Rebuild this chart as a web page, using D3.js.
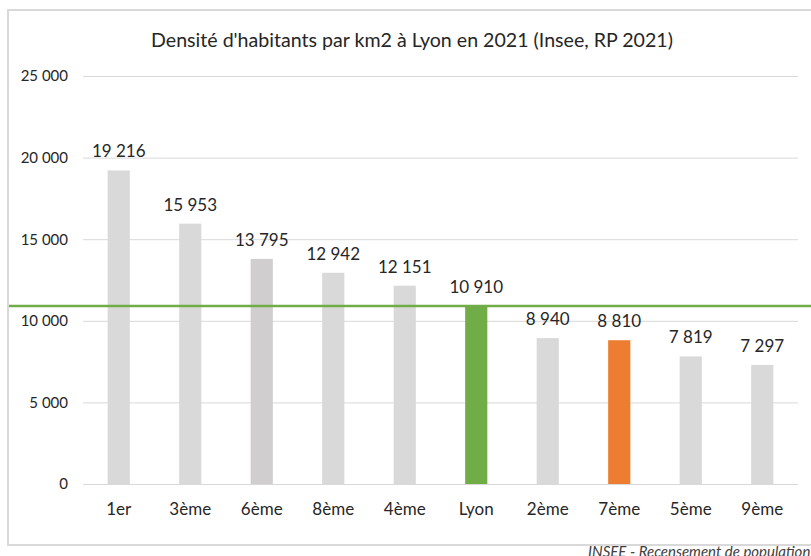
<!DOCTYPE html>
<html>
<head>
<meta charset="utf-8">
<script src="https://cdn.jsdelivr.net/npm/d3@7"></script>
<style>
  body { margin: 0; background: #fff; }
  svg text { font-family: Lato, "DejaVu Sans Condensed", sans-serif; fill: #262626; }
</style>
</head>
<body>
<svg id="drawing_region"></svg>
<script>
// données Insee RP 2021
const categories = ["1er", "3ème", "6ème", "8ème", "4ème", "Lyon", "2ème", "7ème", "5ème", "9ème"];
const densites = [19216, 15953, 13795, 12942, 12151, 10910, 8940, 8810, 7819, 7297];
const yticks = [0, 5000, 10000, 15000, 20000, 25000];
const moyenneLyon = 10910;
const titre = "Densité d'habitants par km2 à Lyon en 2021 (Insee, RP 2021)";
const source = "INSEE - Recensement de population";

const barColor = c => c === "Lyon" ? "#70ad47" : c === "7ème" ? "#ed7d31" : c === "6ème" ? "#d0cece" : "#d9d9d9";

const width = 811, height = 556;
const margin = { top: 76, right: 13, bottom: 72, left: 83 };

const svg = d3.select("#drawing_region")
    .attr("width", width)
    .attr("height", height);

// cadre
svg.append("rect")
    .attr("x", 8).attr("y", 10)
    .attr("width", 820).attr("height", 535)
    .attr("fill", "none")
    .attr("stroke", "#d9d9d9")
    .attr("stroke-width", 2);

const xscale = d3.scaleBand()
    .domain(categories)
    .range([margin.left, width - margin.right])
    .paddingInner(0.69)
    .paddingOuter(0.345);

const yscale = d3.scaleLinear()
    .domain([0, 25000])
    .range([height - margin.bottom, margin.top]);

const fmt = v => d3.format(",")(v).replace(/,/g, " ");

// grille + axe y
const yaxis = d3.axisLeft(yscale)
    .tickValues(yticks)
    .tickFormat(fmt)
    .tickSize(-(width - margin.right - margin.left))
    .tickPadding(15);

const yg = svg.append("g")
    .attr("transform", `translate(${margin.left},0)`)
    .call(yaxis);
yg.select(".domain").remove();
yg.selectAll(".tick line").attr("stroke", "#d9d9d9");
yg.selectAll(".tick text").attr("font-size", 15).attr("fill", "#262626");

// barres
svg.selectAll("rect.bar")
    .data(categories)
    .enter()
    .append("rect")
    .attr("class", "bar")
    .attr("x", d => xscale(d))
    .attr("y", (d, i) => yscale(densites[i]))
    .attr("width", xscale.bandwidth())
    .attr("height", (d, i) => yscale(0) - yscale(densites[i]))
    .attr("fill", d => barColor(d));

// étiquettes de valeur
svg.selectAll("text.val")
    .data(categories)
    .enter()
    .append("text")
    .attr("class", "val")
    .attr("x", d => xscale(d) + xscale.bandwidth() / 2)
    .attr("y", (d, i) => yscale(densites[i]) - 13)
    .attr("text-anchor", "middle")
    .attr("font-size", 17)
    .text((d, i) => fmt(densites[i]));

// axe x
const xaxis = d3.axisBottom(xscale).tickSize(0).tickPadding(19);
const xg = svg.append("g")
    .attr("transform", `translate(0,${yscale(0)})`)
    .call(xaxis);
xg.select(".domain").remove();
xg.selectAll(".tick text").attr("font-size", 17).attr("fill", "#262626");

// ligne moyenne Lyon
svg.append("line")
    .attr("x1", 9).attr("x2", width)
    .attr("y1", yscale(moyenneLyon)).attr("y2", yscale(moyenneLyon))
    .attr("stroke", "#70ad47")
    .attr("stroke-width", 2.5);

// titre
svg.append("text")
    .attr("x", 412).attr("y", 47)
    .attr("text-anchor", "middle")
    .attr("font-size", 19.6)
    .text(titre);

// source (coupée par le bord comme dans l'original)
svg.append("text")
    .attr("x", 588).attr("y", 557)
    .attr("font-size", 15)
    .attr("font-style", "italic")
    .style("fill", "#404040")
    .text(source);
</script>
</body>
</html>
